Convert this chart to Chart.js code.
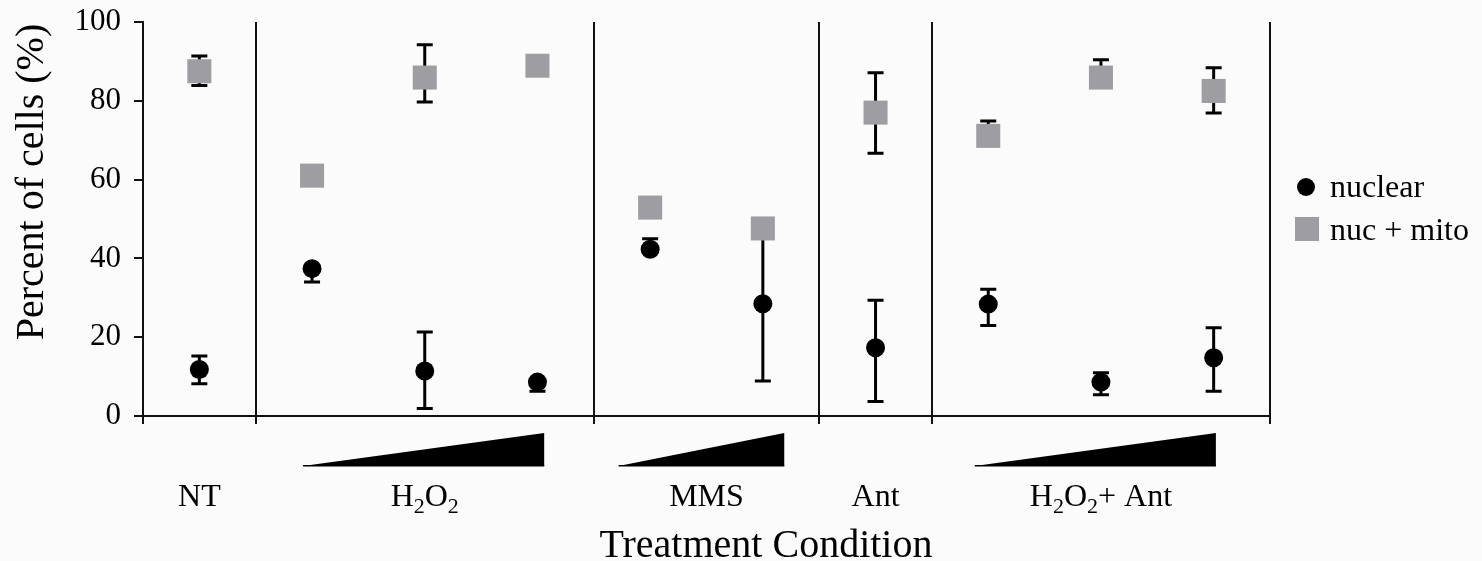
<!DOCTYPE html>
<html>
<head>
<meta charset="utf-8">
<script src="https://cdn.jsdelivr.net/npm/chart.js@4.4.0/dist/chart.umd.min.js"></script>
<style>
  html, body { margin: 0; padding: 0; background: #fbfbfb; }
  #wrap { width: 1482px; height: 561px; position: relative; }
</style>
</head>
<body>
<div id="wrap"><canvas id="chart"></canvas></div>
<script>
// ====== DATA ======
const GROUPS = ["NT", "H2O2", "MMS", "Ant", "H2O2+ Ant"];
const GROUP_CENTERS = [0.5, 2.5, 5, 6.5, 8.5];
const SEPARATORS = [0, 1, 4, 6, 7, 10];
const X_POS = [0.5, 1.5, 2.5, 3.5, 4.5, 5.5, 6.5, 7.5, 8.5, 9.5];
const Y_TICKS = [0, 20, 40, 60, 80, 100];

const nuclear      = [11.8, 37.4, 11.4, 8.6, 42.3, 28.5, 17.3, 28.4, 8.6, 14.8];
const nuclearPlus  = [3.4, 0, 9.9, 0, 2.7, 19.6, 12.1, 3.8, 2.4, 7.6];
const nuclearMinus = [3.6, 3.4, 9.5, 2.3, 0, 19.6, 13.6, 5.4, 3.2, 8.5];

const nucMito      = [87.5, 61.0, 85.9, 88.9, 52.9, 47.6, 77.0, 71.1, 85.9, 82.5];
const nucMitoPlus  = [3.9, 0, 8.3, 0, 0, 0, 10.1, 3.8, 4.5, 5.9];
const nucMitoMinus = [3.6, 0, 6.2, 0, 0, 0, 10.3, 0, 0, 5.6];

// dose wedges under the groups (x range in axis units)
const WEDGES = [[1.42, 3.56], [4.22, 5.69], [7.38, 9.52]];

// ====== STYLE ======
const FONT = "'Liberation Serif', 'Times New Roman', serif";
const GREY = "#9e9da2";
const INK = "#111";

function toPoints(ys) {
  return X_POS.map((x, i) => ({ x, y: ys[i] }));
}

// draws text with digits after letters as subscripts (H2O2 -> H₂O₂)
function drawRich(ctx, text, cx, baseline, size) {
  const subSize = Math.round(size * 0.7);
  const parts = [];
  for (let i = 0; i < text.length; i++) {
    const ch = text[i];
    const sub = /\d/.test(ch) && i > 0 && /[A-Za-z]/.test(text[i - 1]);
    const last = parts[parts.length - 1];
    if (last && last.sub === sub) last.t += ch;
    else parts.push({ t: ch, sub });
  }
  let total = 0;
  parts.forEach(p => {
    ctx.font = `${p.sub ? subSize : size}px ${FONT}`;
    p.w = ctx.measureText(p.t).width;
    total += p.w;
  });
  let x = cx - total / 2;
  ctx.textAlign = "left";
  ctx.textBaseline = "alphabetic";
  parts.forEach(p => {
    ctx.font = `${p.sub ? subSize : size}px ${FONT}`;
    ctx.fillText(p.t, x, baseline + (p.sub ? 7 : 0));
    x += p.w;
  });
}

const errorBars = {
  id: "errorBars",
  beforeDatasetsDraw(chart) {
    const ctx = chart.ctx;
    const ys = chart.scales.y;
    chart.data.datasets.forEach((ds, di) => {
      const meta = chart.getDatasetMeta(di);
      meta.data.forEach((pt, i) => {
        const v = ds.data[i].y;
        const up = ds.errPlus[i], dn = ds.errMinus[i];
        if (!up && !dn) return;
        const yTop = ys.getPixelForValue(v + up);
        const yBot = ys.getPixelForValue(v - dn);
        ctx.save();
        ctx.strokeStyle = "#000";
        ctx.lineWidth = 3;
        ctx.beginPath();
        ctx.moveTo(pt.x, yTop);
        ctx.lineTo(pt.x, yBot);
        if (up) { ctx.moveTo(pt.x - 8, yTop); ctx.lineTo(pt.x + 8, yTop); }
        if (dn) { ctx.moveTo(pt.x - 8, yBot); ctx.lineTo(pt.x + 8, yBot); }
        ctx.stroke();
        ctx.restore();
      });
    });
  }
};

const decorations = {
  id: "decorations",
  afterDraw(chart) {
    const ctx = chart.ctx;
    const xs = chart.scales.x;
    ctx.save();
    ctx.fillStyle = "#000";

    // wedges
    WEDGES.forEach(([a, b]) => {
      const x0 = xs.getPixelForValue(a), x1 = xs.getPixelForValue(b);
      ctx.beginPath();
      ctx.moveTo(x0, 466);
      ctx.lineTo(x1, 433);
      ctx.lineTo(x1, 466);
      ctx.lineTo(x0, 466);
      ctx.closePath();
      ctx.fill();
      ctx.fillRect(x0, 465, x1 - x0, 1.5);
    });

    // group labels
    GROUPS.forEach((g, i) => {
      drawRich(ctx, g, xs.getPixelForValue(GROUP_CENTERS[i]), 506, 32);
    });

    // axis titles
    ctx.font = `40px ${FONT}`;
    ctx.textAlign = "center";
    ctx.textBaseline = "alphabetic";
    ctx.fillText("Treatment Condition", 766, 557);
    ctx.save();
    ctx.translate(43, 182);
    ctx.rotate(-Math.PI / 2);
    ctx.fillText("Percent of cells (%)", 0, 0);
    ctx.restore();

    // legend
    ctx.beginPath();
    ctx.arc(1306, 187, 9, 0, Math.PI * 2);
    ctx.fill();
    ctx.fillStyle = GREY;
    ctx.fillRect(1295, 217, 24, 24);
    ctx.fillStyle = "#000";
    ctx.font = `32px ${FONT}`;
    ctx.textAlign = "left";
    ctx.fillText("nuclear", 1330, 197);
    ctx.fillText("nuc + mito", 1330, 240);
    ctx.restore();
  }
};

new Chart(document.getElementById("chart"), {
  type: "scatter",
  data: {
    datasets: [
      {
        label: "nuclear",
        data: toPoints(nuclear),
        errPlus: nuclearPlus,
        errMinus: nuclearMinus,
        pointStyle: "circle",
        pointRadius: 9.5,
        backgroundColor: "#000",
        borderColor: "#000",
        borderWidth: 0
      },
      {
        label: "nuc + mito",
        data: toPoints(nucMito),
        errPlus: nucMitoPlus,
        errMinus: nucMitoMinus,
        pointStyle: "rect",
        pointRadius: 17,
        backgroundColor: GREY,
        borderColor: GREY,
        borderWidth: 0
      }
    ]
  },
  options: {
    responsive: true,
    maintainAspectRatio: false,
    animation: false,
    events: [],
    layout: { padding: { top: 22, right: 212, left: 0, bottom: 0 } },
    plugins: {
      legend: { display: false },
      tooltip: { enabled: false }
    },
    scales: {
      x: {
        type: "linear",
        min: 0,
        max: 10,
        afterBuildTicks: (s) => { s.ticks = SEPARATORS.map(v => ({ value: v })); },
        afterFit: (s) => { s.height = 145; s.paddingLeft = 0; s.paddingRight = 0; },
        ticks: { display: false },
        grid: { color: INK, lineWidth: 2, tickLength: 8, drawOnChartArea: true },
        border: { display: true, color: INK, width: 2 }
      },
      y: {
        min: 0,
        max: 100,
        afterBuildTicks: (s) => { s.ticks = Y_TICKS.map(v => ({ value: v })); },
        afterFit: (s) => { s.width = 143; s.paddingTop = 0; s.paddingBottom = 0; },
        ticks: { color: "#000", padding: 13, font: { family: FONT, size: 31 } },
        grid: { color: INK, lineWidth: 2, tickLength: 9, drawOnChartArea: false },
        border: { display: true, color: INK, width: 2 }
      }
    }
  },
  plugins: [errorBars, decorations]
});
</script>
</body>
</html>
